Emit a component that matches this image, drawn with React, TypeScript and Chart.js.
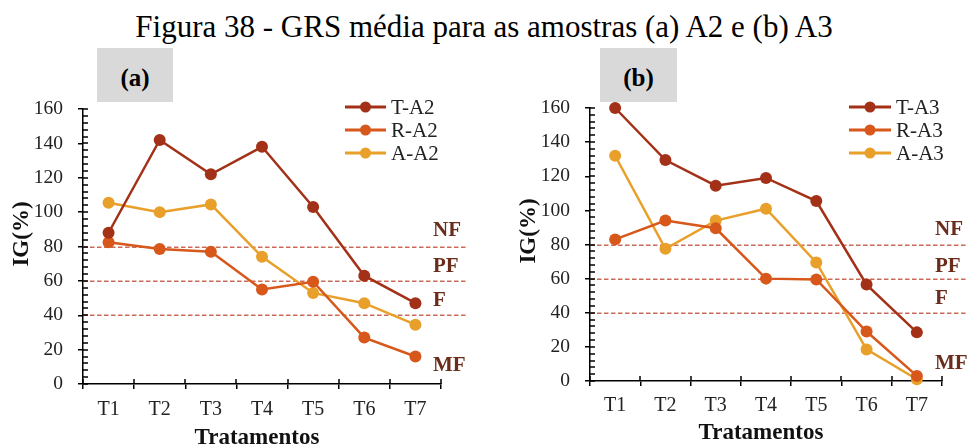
import React, { useEffect, useRef } from "react";
import { Chart, registerables } from "chart.js";

Chart.register(...registerables);

const categories = ["T1", "T2", "T3", "T4", "T5", "T6", "T7"];
const tA2 = [88, 142, 122, 138, 103, 63, 47];
const rA2 = [82.5, 78.5, 77, 55, 59.5, 27, 16];
const aA2 = [105.5, 100, 104.5, 74, 53, 47, 34.5];
const tA3 = [160, 129.5, 114.5, 119, 105.5, 56.5, 28.5];
const rA3 = [83, 94, 89.5, 60, 59.5, 29, 3];
const aA3 = [132, 77.5, 94, 101, 69.5, 18.5, 1];
const yMin = 0;
const yMax = 160;
const yStep = 20;
const yMinorStep = 4;
const thresholds = [80, 60, 40];
const zoneLabels = ["NF", "PF", "F", "MF"];
const zoneLabelValuesA = [89, 68.5, 48.5, 11];
const zoneLabelValuesB = [88.5, 67, 48.5, 10.5];
const seriesNamesA = ["T-A2", "R-A2", "A-A2"];
const seriesNamesB = ["T-A3", "R-A3", "A-A3"];
const colors = ["#a33118", "#d8571b", "#e8a02a"];

const FONT = '"Liberation Serif", "Times New Roman", serif';

const decorPlugin = {
  id: "decor",
  beforeDatasetsDraw(chart: any, _args: any, o: any) {
    const ctx = chart.ctx;
    const y = chart.scales.y;
    const left = chart.chartArea.left;
    ctx.save();
    ctx.setLineDash([]);
    ctx.fillStyle = "#cc6a58";
    thresholds.forEach((v) => {
      const py = Math.round(y.getPixelForValue(v));
      for (let xx = left; xx < o.lineEnd; xx += 7) {
        const w = Math.min(4.5, o.lineEnd - xx);
        ctx.fillRect(xx, py - 0.5, w, 1.5);
      }
    });
    ctx.restore();
  },
  afterDraw(chart: any, _args: any, o: any) {
    const ctx = chart.ctx;
    const y = chart.scales.y;
    const area = chart.chartArea;
    ctx.save();
    ctx.setLineDash([]);
    ctx.fillStyle = "#000";
    // y minor ticks and inner part of major ticks
    for (let v = yMin; v <= yMax; v += yMinorStep) {
      const py = Math.round(y.getPixelForValue(v));
      ctx.fillRect(area.left, py - 0.75, 5, 1.5);
    }
    // x ticks upward part
    const n = categories.length;
    for (let i = 0; i <= n; i++) {
      const px = Math.round(area.left + (i * (area.right - area.left)) / n);
      ctx.fillRect(px - 0.75, area.bottom - 5, 1.5, 5);
    }
    // zone labels
    ctx.fillStyle = "#6b2d1b";
    ctx.font = `bold 21px ${FONT}`;
    ctx.textAlign = "left";
    ctx.textBaseline = "middle";
    zoneLabels.forEach((t, i) => {
      ctx.fillText(t, o.zoneX, y.getPixelForValue(o.zoneValues[i]));
    });
    // legend
    ctx.font = `21px ${FONT}`;
    o.names.forEach((name: string, i: number) => {
      const ry = o.legendY + i * 23;
      ctx.fillStyle = colors[i];
      ctx.fillRect(o.legendX0, ry - 1.5, o.legendX1 - o.legendX0, 3);
      ctx.beginPath();
      ctx.arc((o.legendX0 + o.legendX1) / 2, ry, 5.5, 0, Math.PI * 2);
      ctx.fill();
      ctx.fillStyle = "#222";
      ctx.fillText(name, o.legendX1 + 5, ry + 1);
    });
    // y title
    ctx.save();
    ctx.fillStyle = "#111";
    ctx.font = `bold 23px ${FONT}`;
    ctx.translate(o.yTitleX, o.yTitleY);
    ctx.rotate(-Math.PI / 2);
    ctx.textAlign = "center";
    ctx.textBaseline = "middle";
    ctx.fillText("IG(%)", 0, 0);
    ctx.restore();
    // x title
    ctx.fillStyle = "#111";
    ctx.font = `bold 23px ${FONT}`;
    ctx.textAlign = "center";
    ctx.textBaseline = "middle";
    ctx.fillText("Tratamentos", o.xTitleX, o.xTitleY);
    ctx.restore();
  },
};

type PanelProps = {
  left: number;
  width: number;
  series: number[][];
  names: string[];
  yWidth: number;
  padTop: number;
  padRight: number;
  xHeight: number;
  xPad: number;
  decor: any;
};

function Panel(p: PanelProps) {
  const ref = useRef<HTMLCanvasElement | null>(null);
  useEffect(() => {
    if (!ref.current) return;
    const chart = new Chart(ref.current, {
      type: "line",
      data: {
        labels: categories,
        datasets: p.series.map((d, i) => ({
          label: p.names[i],
          data: d,
          borderColor: colors[i],
          backgroundColor: colors[i],
          pointBackgroundColor: colors[i],
          pointBorderColor: colors[i],
          pointRadius: 6,
          pointBorderWidth: 0,
          borderWidth: 2.5,
          tension: 0,
          fill: false,
          clip: false,
        })),
      },
      options: {
        animation: false,
        responsive: false,
        devicePixelRatio: 1,
        layout: { padding: { top: p.padTop, right: p.padRight, left: 0, bottom: 0 } },
        plugins: {
          legend: { display: false },
          tooltip: { enabled: false },
          decor: p.decor,
        } as any,
        scales: {
          x: {
            type: "category",
            offset: true,
            grid: {
              offset: true,
              drawOnChartArea: false,
              drawTicks: true,
              tickLength: 5,
              color: "#000",
              lineWidth: 1.5,
            },
            border: { display: true, color: "#000", width: 1.5 },
            ticks: {
              color: "#222",
              font: { family: FONT, size: 20 },
              padding: p.xPad,
              maxRotation: 0,
              autoSkip: false,
            },
            afterFit: (s: any) => {
              s.height = p.xHeight;
            },
          },
          y: {
            min: yMin,
            max: yMax,
            grid: {
              drawOnChartArea: false,
              drawTicks: true,
              tickLength: 5,
              color: "#000",
              lineWidth: 1.5,
            },
            border: { display: true, color: "#000", width: 1.5 },
            ticks: {
              stepSize: yStep,
              color: "#222",
              font: { family: FONT, size: 19.5 },
              padding: 15,
            },
            afterFit: (s: any) => {
              s.width = p.yWidth;
            },
          },
        },
      },
      plugins: [decorPlugin as any],
    });
    return () => chart.destroy();
  }, []);
  return (
    <canvas
      ref={ref}
      width={p.width}
      height={446}
      style={{ position: "absolute", left: p.left, top: 0, width: p.width, height: 446 }}
    />
  );
}

const boxStyle: React.CSSProperties = {
  position: "absolute",
  top: 48,
  height: 54,
  background: "#d9d9d9",
  display: "flex",
  alignItems: "center",
  justifyContent: "center",
  fontWeight: "bold",
  fontSize: 25,
  lineHeight: "28px",
  paddingTop: 6,
  boxSizing: "border-box",
  color: "#000",
};

export default function App() {
  return (
    <div
      style={{
        position: "fixed",
        left: 0,
        top: 0,
        width: 968,
        height: 446,
        background: "#fff",
        overflow: "hidden",
        fontFamily: FONT,
      }}
    >
      <div
        style={{
          position: "absolute",
          left: 0,
          top: 10,
          width: 968,
          textAlign: "center",
          fontSize: 31,
          lineHeight: "34px",
          color: "#000",
          whiteSpace: "nowrap",
        }}
      >
        Figura 38 - GRS média para as amostras (a) A2 e (b) A3
      </div>
      <Panel
        left={0}
        width={484}
        series={[tA2, rA2, aA2]}
        names={seriesNamesA}
        yWidth={83}
        padTop={109}
        padRight={43}
        xHeight={62}
        xPad={9}
        decor={{
          lineEnd: 466,
          zoneX: 433,
          zoneValues: zoneLabelValuesA,
          names: seriesNamesA,
          legendX0: 345,
          legendX1: 386,
          legendY: 107,
          yTitleX: 22,
          yTitleY: 234,
          xTitleX: 257,
          xTitleY: 438,
        }}
      />
      <Panel
        left={484}
        width={484}
        series={[tA3, rA3, aA3]}
        names={seriesNamesB}
        yWidth={106}
        padTop={108}
        padRight={26}
        xHeight={65}
        xPad={8}
        decor={{
          lineEnd: 482,
          zoneX: 451,
          zoneValues: zoneLabelValuesB,
          names: seriesNamesB,
          legendX0: 365,
          legendX1: 407,
          legendY: 107,
          yTitleX: 45,
          yTitleY: 231,
          xTitleX: 277,
          xTitleY: 433,
        }}
      />
      <div style={{ ...boxStyle, left: 97, width: 76 }}>(a)</div>
      <div style={{ ...boxStyle, left: 600, width: 77 }}>(b)</div>
    </div>
  );
}
